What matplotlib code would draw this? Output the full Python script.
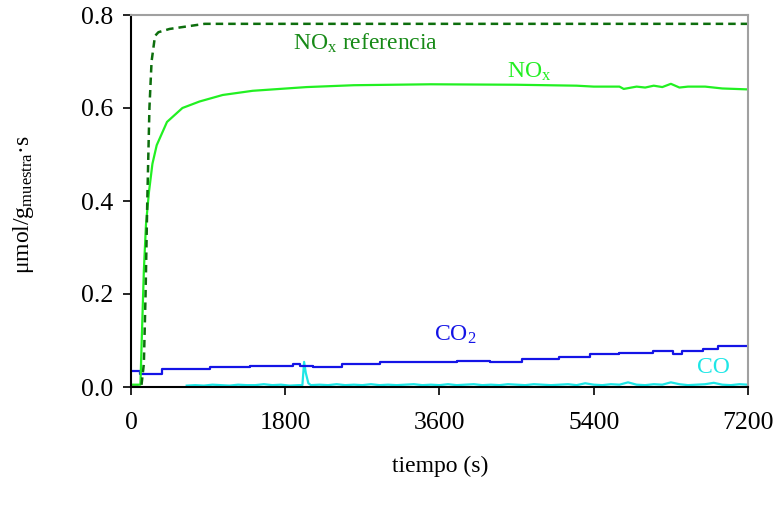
import matplotlib
matplotlib.use("Agg")
import matplotlib.pyplot as plt

plt.rcParams['font.family'] = ['Liberation Serif', 'DejaVu Serif']
plt.rcParams['mathtext.fontset'] = 'custom'
plt.rcParams['mathtext.rm'] = 'Liberation Serif'
plt.rcParams['mathtext.it'] = 'Liberation Serif:italic'

# NOx referencia (dashed)
ref_t = [0, 120, 150, 170, 190, 215, 240, 280, 320, 450, 860, 7200]
ref_v = [0.0, 0.0, 0.05, 0.2, 0.4, 0.6, 0.7, 0.755, 0.763, 0.77, 0.781, 0.781]

# NOx
nox_t = [0, 110, 125, 150, 175, 210, 250, 300, 420, 600, 800, 1070, 1420, 2050,
         2600, 3500, 4500, 5200, 5400, 5700, 5750, 5900, 6000, 6100, 6200, 6300,
         6400, 6500, 6700, 6900, 7200]
nox_v = [0.005, 0.005, 0.1, 0.25, 0.35, 0.42, 0.48, 0.52, 0.57, 0.60, 0.614, 0.628,
         0.637, 0.645, 0.649, 0.651, 0.650, 0.648, 0.646, 0.646, 0.641, 0.646, 0.644,
         0.648, 0.645, 0.652, 0.644, 0.646, 0.646, 0.642, 0.640]

# CO2 (step)
co2_t = [0, 100, 360, 920, 1390, 1890, 1970, 2120, 2460, 2670, 2900, 3800, 4190,
         4340, 4560, 5000, 5360, 5700, 6090, 6330, 6430, 6680, 6850, 7200]
co2_v = [0.034, 0.029, 0.039, 0.044, 0.046, 0.050, 0.046, 0.043, 0.049, 0.050,
         0.053, 0.056, 0.053, 0.054, 0.061, 0.064, 0.070, 0.073, 0.077, 0.072,
         0.077, 0.081, 0.088, 0.088]

# CO
co_t = [650, 750, 850, 950, 1050, 1150, 1250, 1350, 1450, 1550, 1650, 1750, 1850,
        1950, 2000, 2020, 2040, 2070, 2100, 2200, 2300, 2400, 2500, 2600, 2700,
        2800, 2900, 3000, 3100, 3200, 3300, 3400, 3500, 3600, 3700, 3800, 3900,
        4000, 4100, 4200, 4300, 4400, 4500, 4600, 4700, 4800, 4900, 5000, 5100,
        5200, 5300, 5400, 5500, 5600, 5700, 5800, 5900, 6000, 6100, 6200, 6300,
        6400, 6500, 6600, 6700, 6800, 6900, 7000, 7100, 7200]
co_v = [0.003, 0.004, 0.003, 0.005, 0.004, 0.003, 0.005, 0.004, 0.004, 0.006,
        0.004, 0.005, 0.003, 0.004, 0.004, 0.054, 0.030, 0.008, 0.004, 0.005,
        0.004, 0.006, 0.004, 0.005, 0.004, 0.006, 0.004, 0.005, 0.004, 0.005,
        0.006, 0.004, 0.005, 0.004, 0.006, 0.004, 0.005, 0.006, 0.004, 0.005,
        0.004, 0.006, 0.005, 0.004, 0.006, 0.005, 0.004, 0.005, 0.006, 0.004,
        0.008, 0.005, 0.004, 0.006, 0.005, 0.010, 0.005, 0.004, 0.006, 0.005,
        0.010, 0.006, 0.004, 0.005, 0.006, 0.009, 0.005, 0.004, 0.006, 0.005]

xticks = [0, 1800, 3600, 5400, 7200]
yticks = [0.0, 0.2, 0.4, 0.6, 0.8]

fig = plt.figure(figsize=(7.76, 5.08), dpi=100)
ax = fig.add_axes([131 / 776, 121 / 508, 617 / 776, 372 / 508])

ax.plot(co_t, co_v, color='#1ee6e6', lw=1.6)
ax.plot(co2_t, co2_v, color='#1414e6', lw=1.6, drawstyle='steps-post')
ax.plot(nox_t, nox_v, color='#22f022', lw=1.6)
ax.plot(ref_t, ref_v, color='#0d6e0d', lw=1.8, dashes=(3, 2))

ax.set_xlim(0, 7200)
ax.set_ylim(0, 0.8)
ax.set_xticks(xticks)
ax.set_xticklabels([str(t) for t in xticks])
ax.set_yticks(yticks)
ax.set_yticklabels(['%.1f' % v for v in yticks])
ax.tick_params(direction='out', length=6, width=1.2, labelsize=18.5)
ax.tick_params(axis='x', pad=12)
ax.tick_params(axis='y', pad=7)

for s in ['left', 'bottom']:
    ax.spines[s].set_color('black')
    ax.spines[s].set_linewidth(1.5)
for s in ['top', 'right']:
    ax.spines[s].set_color('#a0a0a0')
    ax.spines[s].set_linewidth(1.5)

ax.text(1890, 0.725, r'NO$_\mathrm{x}$ referencia', color='#178a17', fontsize=17)
ax.text(4390, 0.665, r'NO$_\mathrm{x}$', color='#22ee22', fontsize=17)
ax.text(3540, 0.1, r'CO$_\mathrm{2}$', color='#1414e6', fontsize=17)
ax.text(6610, 0.03, 'CO', color='#1ee6e6', fontsize=17)

fig.text(440 / 776, 1 - 466 / 508, 'tiempo (s)', fontsize=17,
         ha='center', va='center')
fig.text(24 / 776, 1 - 204 / 508, r'μmol/g$_\mathrm{muestra}$·s', fontsize=17,
         rotation=90, ha='center', va='center')

fig.savefig('out.png', dpi=100)
